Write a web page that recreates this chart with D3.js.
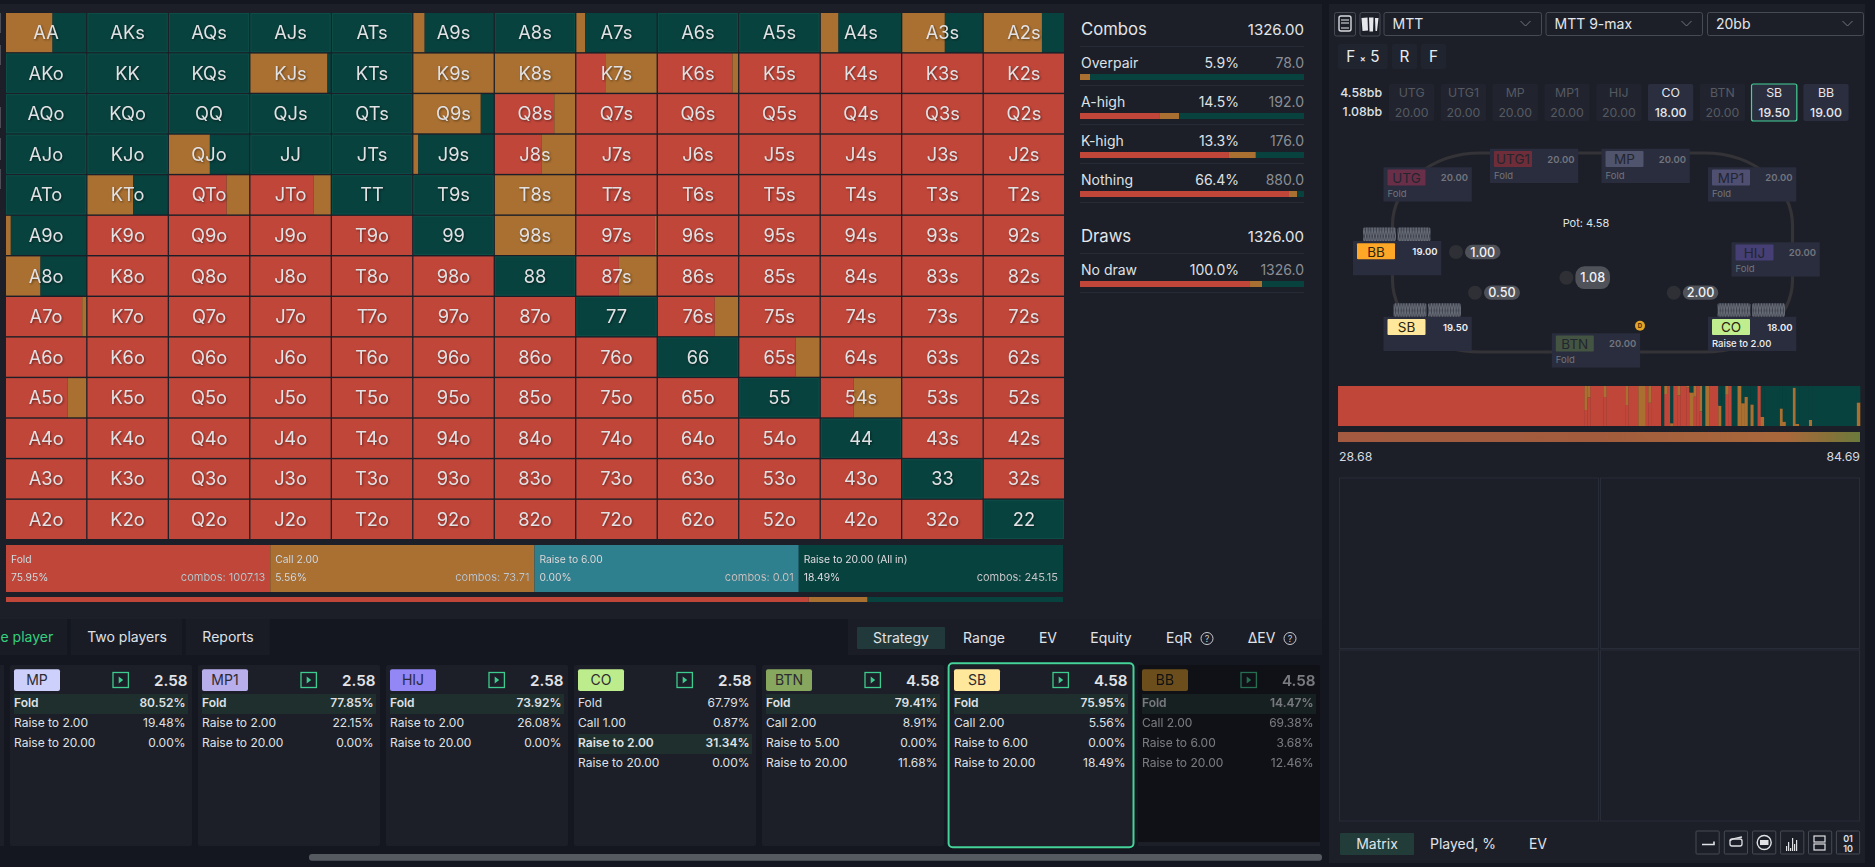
<!DOCTYPE html>
<html><head><meta charset="utf-8">
<script src="https://cdn.jsdelivr.net/npm/d3@7"></script>
<style>html,body{margin:0;padding:0;background:#14171f;overflow:hidden}svg{display:block;font-family:Inter,"Noto Sans",sans-serif}</style>
</head><body><svg id="c" width="1875" height="867"></svg>
<script>
// ---------- data ----------
const ranks = ["A","K","Q","J","T","9","8","7","6","5","4","3","2"];
// % fold per cell (row, col)
const foldPct = [
[0,0,0,0,0,0,0,0,0,0,0,0,0],
[0,0,0,0,0,0,0,36,93,100,100,100,100],
[0,0,0,0,0,0,74,100,100,100,100,100,100],
[0,0,0,0,0,0,58,100,100,100,100,100,100],
[0,0,72,79,0,0,0,100,100,100,100,100,100],
[0,100,100,100,100,0,0,98,100,100,100,100,100],
[0,100,100,100,100,100,0,53,100,100,100,100,100],
[95,100,100,100,100,100,100,0,71,100,100,100,100],
[100,100,100,100,100,100,100,100,0,70,100,100,100],
[77,100,100,100,100,100,100,100,100,0,41,100,100],
[100,100,100,100,100,100,100,100,100,100,0,100,100],
[100,100,100,100,100,100,100,100,100,100,100,0,100],
[100,100,100,100,100,100,100,100,100,100,100,100,0]];
// % call per cell; the rest of each cell is the all-in raise
const callPct = [
[58,0,0,0,0,14,0,11,0,0,22,53,72.5],
[0,0,0,96,0,100,100,64,7,0,0,0,0],
[0,0,0,0,0,84,26,0,0,0,0,0,0],
[0,0,51,0,0,6,42,0,0,0,0,0,0],
[0,57,28,21,0,0,100,0,0,0,0,0,0],
[6,0,0,0,0,0,100,2,0,0,0,0,0],
[43,0,0,0,0,0,0,47,0,0,0,0,0],
[5,0,0,0,0,0,0,0,29,0,0,0,0],
[0,0,0,0,0,0,0,0,0,30,0,0,0],
[23,0,0,0,0,0,0,0,0,0,59,0,0],
[0,0,0,0,0,0,0,0,0,0,0,0,0],
[0,0,0,0,0,0,0,0,0,0,0,0,0],
[0,0,0,0,0,0,0,0,0,0,0,0,0]];
const actionNames = ["Fold","Call 2.00","Raise to 6.00","Raise to 20.00 (All in)"];
const actionPct = ["75.95%","5.56%","0.00%","18.49%"];
const actionCombos = ["1007.13","73.71","0.01","245.15"];
const summaryShares = [75.95,5.56,18.49];
const comboRows = ["Overpair","A-high","K-high","Nothing"];
const comboPct = ["5.9%","14.5%","13.3%","66.4%"];
const comboVals = ["78.0","192.0","176.0","880.0"];
const comboBars = [[0,4.5,95.5],[35.7,8.5,55.8],[66.5,12,21.5],[93.3,3.6,3.1]];
const drawRows = ["No draw"];
const drawPct = ["100.0%"];
const drawVals = ["1326.0"];
const drawBars = [[75.9,5.4,18.7]];
const totalCombos = "1326.00";
// strip ordered by equity: [combos, fold %, call %]; the rest is all-in
const stripCols = [
[628,100,0],[7,40,60],[8,71,29],[33,100,0],[8,72.5,27.5],[48.5,100,0],[7,52.5,47.5],[25.6,100,0],
[18.5,0,100],[7,100,0],[7,58,42],[25.6,100,0],[8,0,0],[7,80,20],[8,100,0],[8,0,7],[10,100,0],
[8,76,24],[15,100,0],[8,96,4],[10.6,0,84],[7,73,27],[8,100,0],[7,36,64],[8,0,0],[10,0,100],
[23,100,0],[8,0,51],[10,0,0],[8,78,22],[8,100,0],[15,0,0],[10,0,100],[8,0,57],[8,0,73],[7,0,0],
[8,0,54],[10,0,0],[8,100,0],[9,0,23],[40,0,0],[7,0,44],[8,0,11],[18,0,0],[7,0,96],[9,0,5],
[25,0,0],[8,0,15],[114,0,0],[8,0,59]];
const equityRange = ["28.68","84.69"];
const seatNames = ["UTG","UTG1","MP","MP1","HIJ","CO","BTN","SB","BB"];
const seatStacks = ["20.00","20.00","20.00","20.00","20.00","18.00","20.00","19.50","19.00"];
const seatActions = ["Fold","Fold","Fold","Fold","Fold","Raise to 2.00","Fold","",""];
const seatLive = [0,0,0,0,0,1,0,1,1];
const potLines = ["4.58bb","1.08bb"];
const betValues = ["1.00","0.50","2.00","1.08"];
const selects = ["MTT","MTT 9-max","20bb"];
const crumbs = [["F","×","5"],["R"],["F"]];
const viewTabs = ["Strategy","Range","EV","Equity","EqR","ΔEV"];
const playerTabs = ["e player","Two players","Reports"];
const bottomTabs = ["Matrix","Played, %","EV"];
const cardNames = ["MP","MP1","HIJ","CO","BTN","SB","BB"];
const cardPots = ["2.58","2.58","2.58","2.58","4.58","4.58","4.58"];
const cardLabels = [
["Fold","Raise to 2.00","Raise to 20.00"],
["Fold","Raise to 2.00","Raise to 20.00"],
["Fold","Raise to 2.00","Raise to 20.00"],
["Fold","Call 1.00","Raise to 2.00","Raise to 20.00"],
["Fold","Call 2.00","Raise to 5.00","Raise to 20.00"],
["Fold","Call 2.00","Raise to 6.00","Raise to 20.00"],
["Fold","Call 2.00","Raise to 6.00","Raise to 20.00"]];
const cardPcts = [
["80.52%","19.48%","0.00%"],
["77.85%","22.15%","0.00%"],
["73.92%","26.08%","0.00%"],
["67.79%","0.87%","31.34%","0.00%"],
["79.41%","8.91%","0.00%","11.68%"],
["75.95%","5.56%","0.00%","18.49%"],
["14.47%","69.38%","3.68%","12.46%"]];
const cardTop = [0,0,0,2,0,0,0];

// ---------- styles ----------
const RED="#c1463a", ORG="#aa7031", GRN="#08423e", TEAL="#2f808e";
const PANEL="#1c1f28", DARK="#14171f", LINE="#272b36", BORDER="#464a52";
const seatColors = {UTG:"#6a2f48",UTG1:"#6e2d38",MP:"#50546c",MP1:"#4f4f72",HIJ:"#453f75",CO:"#c0ee8f",BTN:"#435542",SB:"#ffe79b",BB:"#ffa726"};
const cardColors = {MP:"#cdd0fa",MP1:"#b9aeec",HIJ:"#9386f5",CO:"#bdec8c",BTN:"#87a75f",SB:"#ffe79b",BB:"#c98a22"};

const svg = d3.select("#c");
const rect=(p,x,y,w,h,fill,o={})=>{const r=p.append("rect").attr("x",x).attr("y",y).attr("width",w).attr("height",h).attr("fill",fill);
  for(const k in o) r.attr(k,o[k]); return r;};
const text=(p,x,y,s,o={})=>p.append("text").attr("x",x).attr("y",y).text(s)
  .attr("font-size",o.size||12).attr("fill",o.fill||"#dfe1e5").attr("text-anchor",o.anchor||"start").attr("font-weight",o.weight||400);
function stackBar(p,x0,x1,y,h,shares){
  const sx=d3.scaleLinear().domain([0,d3.sum(shares)]).range([x0,x1]);
  let acc=0; [RED,ORG,GRN].forEach((c,i)=>{ if(shares[i]>0) rect(p,sx(acc),y,sx(acc+shares[i])-sx(acc),h,c); acc+=shares[i];});
}

// ---------- backgrounds ----------
rect(svg,0,0,1875,867,DARK);
rect(svg,0,4,1322,615,PANEL);
rect(svg,1329,4,536,859,PANEL);
rect(svg,848,619,474,36,"#1a1d26");
[[0,67],[70.7,111.3],[185.7,84]].forEach(d=>rect(svg,d[0],619,d[1],36,"#191c25"));
[[13,20],[45,20],[107,21],[138,22],[169,20]].forEach(d=>rect(svg,0,d[0],1,d[1],"#4a4d55"));

// ---------- hand matrix ----------
const gx=d3.scaleBand().domain(ranks).range([6,1064]).paddingInner(0.016);
const gy=d3.scaleBand().domain(ranks).range([13,539]).paddingInner(0.035);
const pw=d3.scaleLinear().domain([0,100]).range([0,gx.bandwidth()]);
const grid=svg.append("g");
const labels=svg.append("g").style("filter","drop-shadow(1px 1px 1px rgba(0,0,0,.45))");
ranks.forEach((r,i)=>ranks.forEach((c,j)=>{
  const name=i===j?r+c:(j>i?r+c+"s":c+r+"o");
  const x=gx(c),y=gy(r),h=gy.bandwidth();
  const f=foldPct[i][j],k=callPct[i][j],a=100-f-k;
  let acc=0;
  [[f,RED],[k,ORG],[a,GRN]].forEach(([v,col])=>{ if(v>0){ rect(grid,x+pw(acc),y,pw(v),h,col); acc+=v; }});
  if(a===100) rect(grid,x+.5,y+.5,gx.bandwidth()-1,h-1,"none",{stroke:"#0c4d47","stroke-width":1});
  text(labels,x+gx.bandwidth()/2,y+h/2+6.5,name,{size:18.3,fill:"#e2e2e4",anchor:"middle"});
}));

// ---------- action legend ----------
const lx=d3.scaleBand().domain(actionNames).range([6,1063]);
const lcol=[RED,ORG,TEAL,GRN];
const lg=svg.append("g"), lt=svg.append("g").style("filter","drop-shadow(.6px .6px .6px rgba(0,0,0,.4))");
actionNames.forEach((n,i)=>{
  const x=lx(n),w=lx.bandwidth();
  rect(lg,x,545,w,47,lcol[i]);
  text(lt,x+5,562.5,n,{size:10.3});
  text(lt,x+5,580.5,actionPct[i],{size:10.3});
  text(lt,x+w-5,580.5,"combos: "+actionCombos[i],{size:11,fill:"#c5c7c9",anchor:"end"});
});
stackBar(svg,6,1063,597,5,summaryShares);

// ---------- combos side panel ----------
function sideHead(y,t){
  text(svg,1081,y,t,{size:16.7,fill:"#e3e5e9"});
  text(svg,1304,y,totalCombos,{size:15,fill:"#e3e5e9",anchor:"end"});
}
function sideRow(y,n,p,v,b){
  text(svg,1081,y+22,n,{size:14,fill:"#dfe1e5"});
  text(svg,1239,y+22,p,{size:14,fill:"#dfe1e5",anchor:"end"});
  text(svg,1304,y+22,v,{size:14,fill:"#8b8e95",anchor:"end"});
  stackBar(svg,1080,1304,y+28,6,b);
  rect(svg,1080,y+39,224,1,LINE);
}
sideHead(35,"Combos"); rect(svg,1080,46,224,1,LINE);
comboRows.forEach((n,i)=>sideRow(46+39*i,n,comboPct[i],comboVals[i],comboBars[i]));
sideHead(242,"Draws"); rect(svg,1080,253,224,1,LINE);
drawRows.forEach((n,i)=>sideRow(253,n,drawPct[i],drawVals[i],drawBars[i]));

// ---------- top toolbar ----------
const topG=svg.append("g");
rect(topG,1334.5,12.5,21,23.5,"none",{stroke:BORDER,rx:2});
rect(topG,1360,12.5,20,23.5,"none",{stroke:BORDER,rx:2});
rect(topG,1339,16,12,15,"none",{stroke:"#d8dade","stroke-width":1.4,rx:2});
[20,23,28].forEach(y=>topG.append("line").attr("x1",1341).attr("x2",1349).attr("y1",y).attr("y2",y).attr("stroke","#d8dade").attr("stroke-width",1.1));
topG.append("path").attr("d","M1361.5 18l6-.5 .5 13-5.5.5zM1369 17.5h4.5l-.5 14h-3.5zM1375 18l3.5 0-1.5 13-1.5 0z").attr("fill","#e6e7ea");
const selX=[1384,1546,1707.5], selW=[157.5,156.5,156];
selects.forEach((s,i)=>{
  rect(topG,selX[i],12.5,selW[i],23,"none",{stroke:BORDER,rx:2});
  text(topG,selX[i]+8.5,29,s,{size:14,fill:"#e3e6ea"});
  const cx=selX[i]+selW[i]-16;
  topG.append("path").attr("d",`M${cx-5} 21l5 5 5-5`).attr("fill","none").attr("stroke","#71757c");
});
const crumbX=[1338,1392,1421], crumbW=[49.7,25,25];
crumbs.forEach((c,i)=>{
  rect(topG,crumbX[i],44,crumbW[i],25,"#20242e",{rx:2});
  const t=topG.append("text").attr("x",crumbX[i]+crumbW[i]/2).attr("y",62).attr("text-anchor","middle").attr("fill","#e8ebef").attr("font-size",15.3);
  c.forEach((part,k)=>{
    const ts=t.append("tspan").text(part);
    if(k===1) ts.attr("font-size",9).attr("dx",4.5).attr("font-weight",600);
    if(k===2) ts.attr("dx",4.5);
  });
});
potLines.forEach((s,i)=>text(topG,1382,97+i*19.3,s,{size:12.3,fill:"#dfe2e6",anchor:"end",weight:500}));
const stackX=d3.scaleBand().domain(seatNames).range([1389,1389+51.07*9]).paddingInner(0.125);
seatNames.forEach((n,i)=>{
  const x=stackX(n),w=stackX.bandwidth(),live=seatLive[i];
  rect(topG,x,84,w,37,live?"#2a2e3e":"#21242e",{rx:2});
  if(n==="SB") rect(topG,x,84,w,37,"none",{stroke:"#45d197",rx:2,"stroke-width":1.2});
  text(topG,x+w/2,97,n,{size:12.3,fill:live?"#e5e7eb":"#565a63",anchor:"middle"});
  text(topG,x+w/2,116.5,seatStacks[i],{size:12.3,fill:live?"#e5e7eb":"#565a63",anchor:"middle",weight:live?500:400});
});

// ---------- table ----------
const tb=svg.append("g");
rect(tb,1392.5,153,400,199,"none",{stroke:"#343337","stroke-width":3.2,rx:88,ry:72});
const defs=svg.append("defs");
const pat=defs.append("pattern").attr("id","zz").attr("patternUnits","userSpaceOnUse").attr("width",5.5).attr("height",13.5);
pat.append("rect").attr("width",5.5).attr("height",13.5).attr("fill","#3b3f4a");
pat.append("path").attr("d","M0 0L2.75 13.5L5.5 0M0 13.5L2.75 0L5.5 13.5").attr("stroke","#737884").attr("stroke-width",.8).attr("fill","none");
const seatPos={UTG:[1383.5,167.3],UTG1:[1490,148.7],MP:[1601.5,148.7],MP1:[1708,167.3],HIJ:[1731.5,242.3],CO:[1708,316.7],BTN:[1551.8,333.3],SB:[1383.5,316.7],BB:[1353,241]};
const holePos={BB:1363,SB:1393.5,CO:1717.5};
seatNames.forEach((n,i)=>{
  const [x,y]=seatPos[n],live=seatLive[i];
  rect(tb,x,y,88.3,34.3,"#2a2d3d");
  rect(tb,x+4,y+2.3,38,16,seatColors[n],{rx:1});
  text(tb,x+23,y+15.5,n,{size:13.5,fill:live?"#2a2410":"#23252f",anchor:"middle"});
  text(tb,x+84.5,y+14,seatStacks[i],{size:9.5,fill:live?"#eef0f3":"#72757e",anchor:"end",weight:600});
  text(tb,x+4,y+30,seatActions[i],{size:9.5,fill:live?"#eef0f3":"#71747c",weight:live?500:400});
  if(n in holePos) [0,34.5].forEach(dx=>rect(tb,holePos[n]+dx,y-13.5,33,13.5,"url(#zz)",{rx:1.5}));
});
text(tb,1586,226.5,"Pot: 4.58",{size:11,fill:"#dfe3e6",anchor:"middle"});
const betPos=[[1456,252,1465,35.5,14.3],[1475,292.7,1484,36,14.3],[1673.8,292.7,1682.8,35.5,14.3],[1566.4,277.7,1575.4,34.6,22.7]];
betValues.forEach((v,i)=>{
  const [cx,cy,px,pw2,ph]=betPos[i];
  tb.append("circle").attr("cx",cx).attr("cy",cy).attr("r",7).attr("fill","#2f3036");
  rect(tb,px,cy-ph/2,pw2,ph,"#50525a",{rx:Math.min(ph/2,9)});
  text(tb,px+pw2/2,cy+4.5,v,{size:12.6,fill:"#f0f1f3",anchor:"middle",weight:500});
});
tb.append("circle").attr("cx",1640).attr("cy",325.7).attr("r",5).attr("fill","#e4a526");
text(tb,1640,328,"D",{size:6,fill:"#3a2a06",anchor:"middle",weight:700});

// ---------- equity strip ----------
const stripG=svg.append("g");
const sTotal=d3.sum(stripCols,d=>d[0]);
const sx=d3.scaleLinear().domain([0,sTotal]).range([1338,1860]);
const sy=d3.scaleLinear().domain([0,100]).range([426,386]);
let cum=0;
stripCols.forEach(([w,f,k])=>{
  const x=sx(cum),bw=sx(cum+w)-x+.3; cum+=w;
  const a=100-f-k;
  if(f>0) rect(stripG,x,sy(f),bw,sy(0)-sy(f),RED);
  if(k>0) rect(stripG,x,sy(f+k),bw,sy(f)-sy(f+k),ORG);
  if(a>0) rect(stripG,x,sy(100),bw,sy(f+k)-sy(100),GRN);
});
const grad=defs.append("linearGradient").attr("id","eq");
[[0,"#a35a40"],[.5,"#a25c3d"],[.86,"#a8683b"],[.94,"#877139"],[1,"#6b7a3c"]].forEach(d=>grad.append("stop").attr("offset",d[0]).attr("stop-color",d[1]));
rect(stripG,1338,432,522,10,"url(#eq)");
text(stripG,1339,461,equityRange[0],{size:12.3,fill:"#d6dae0"});
text(stripG,1860,461,equityRange[1],{size:12.3,fill:"#d6dae0",anchor:"end"});
[[1339.5,478,259,170.5],[1600.5,478,259,170.5],[1339.5,650,259,171],[1600.5,650,259,171]].forEach(d=>rect(svg,d[0],d[1],d[2],d[3],"none",{stroke:"#282c36"}));

// ---------- bottom right tabs ----------
const brG=svg.append("g");
rect(brG,1340,833,74,22,"#213c39",{rx:1});
const brCx=[1377,1463,1538];
bottomTabs.forEach((t,i)=>text(brG,brCx[i],849,t,{size:14,fill:"#e0e3e7",anchor:"middle"}));
const icoX=[1696,1724.3,1752.6,1780.6,1808.5,1836.4];
icoX.forEach(x=>rect(brG,x,831,23.2,23,"none",{stroke:BORDER,rx:1}));
brG.append("path").attr("d","M1702 844.5h12v-3").attr("fill","none").attr("stroke","#dfe1e5").attr("stroke-width",1.6);
rect(brG,1730,839,12,7,"none",{stroke:"#dfe1e5",rx:2,"stroke-width":1.3});
brG.append("path").attr("d","M1730 841c2-3 8-3 12-4").attr("fill","none").attr("stroke","#dfe1e5").attr("stroke-width",1.3);
brG.append("circle").attr("cx",1764.2).attr("cy",842.5).attr("r",7).attr("fill","none").attr("stroke","#dfe1e5").attr("stroke-width",1.4);
rect(brG,1760,840,8.5,5,"#dfe1e5");
[5,9,3,13,7,11].forEach((h,i)=>rect(brG,1786+i*2,851-h,1.2,h,"#dfe1e5"));
rect(brG,1814,836,11,6,"none",{stroke:"#dfe1e5","stroke-width":1.2});
rect(brG,1814,844,11,6,"none",{stroke:"#dfe1e5","stroke-width":1.2});
text(brG,1848,842,"01",{size:9,fill:"#dfe1e5",anchor:"middle",weight:600});
text(brG,1848,852,"10",{size:9,fill:"#dfe1e5",anchor:"middle",weight:600});

// ---------- view tabs ----------
const vG=svg.append("g");
playerTabs.forEach((t,i)=>{
  if(i===0) text(vG,0.5,642,t,{size:14,fill:"#35d07f"});
  else text(vG,[0,127,228][i],642,t,{size:14,fill:"#dfe1e5",anchor:"middle"});
});
rect(vG,857,627,88,22,"#21393a",{rx:1});
const vCx=[901,984,1048,1111,1179,1261.5];
viewTabs.forEach((t,i)=>text(vG,vCx[i],643,t,{size:14,fill:"#e0e3e7",anchor:"middle"}));
[1207,1290].forEach(x=>{
  vG.append("circle").attr("cx",x).attr("cy",638.5).attr("r",6).attr("fill","none").attr("stroke","#c8cbd0");
  text(vG,x,642,"?",{size:9,fill:"#c8cbd0",anchor:"middle"});
});

// ---------- player cards ----------
rect(svg,0,665,4,181,PANEL);
const cardX=d3.scaleOrdinal().domain(cardNames).range([10,198,386,574,762,950,1138]);
cardNames.forEach((n,i)=>{
  const x=cardX(n),isBB=n==="BB";
  rect(svg,x,665,182,181,isBB?"#0f1116":PANEL,{rx:2});
  if(isBB) rect(svg,x,842,182,4,PANEL);
  const g=svg.append("g").attr("opacity",isBB?.5:1);
  rect(g,x+4,669.3,46,21.7,cardColors[n],{rx:2});
  text(g,x+27,685,n,{size:14,fill:isBB?"#111":"#2b2b33",anchor:"middle"});
  const ix=x+103,iw=15.4;
  rect(g,ix,672.5,iw,15,"none",{stroke:"#3ecb8f","stroke-width":1.3});
  g.append("path").attr("d",`M${ix+iw/2-2} 676.5l4.5 3.5-4.5 3.5z`).attr("fill","#3ecb8f");
  text(g,x+177.5,686,cardPots[i],{size:15.2,fill:"#e2e4e8",anchor:"end",weight:600});
  cardLabels[i].forEach((l,k)=>{
    const top=(k===cardTop[i]);
    if(top) rect(g,x+4,694+k*20,174,20,"#1f2f2d");
    text(g,x+4,706.7+k*20,l,{size:12,fill:"#dfe1e5",weight:top?600:400});
    text(g,x+175.5,706.7+k*20,cardPcts[i][k],{size:12,fill:"#dfe1e5",anchor:"end",weight:top?600:400});
  });
});
rect(svg,948.6,663.3,184.9,184,"none",{stroke:"#46d39a","stroke-width":2,rx:4});
rect(svg,309,854,1013,6.7,"#555a61",{rx:3});
</script></body></html>
